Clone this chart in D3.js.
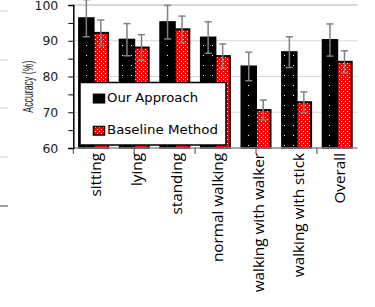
<!DOCTYPE html>
<html>
<head>
<meta charset="utf-8">
<script src="https://cdn.jsdelivr.net/npm/d3@7"></script>
<style>
  body { margin: 0; background: #fff; }
  svg { display: block; }
</style>
</head>
<body>
<svg width="375" height="307"></svg>
<script>
// data
const categories = ["sitting", "lying", "standing", "normal walking", "walking with walker", "walking with stick", "Overall"];
const seriesNames = ["Our Approach", "Baseline Method"];
const ourValues  = [96.3, 90.3, 95.2, 90.9, 82.8, 86.8, 90.2];
const ourErrors  = [5.2, 4.5, 4.7, 4.4, 4.0, 4.3, 4.5];
const baseValues = [92.2, 88.1, 93.2, 85.7, 70.6, 72.8, 84.1];
const baseErrors = [3.6, 3.6, 3.7, 3.4, 2.8, 2.9, 3.1];
const yTicks = [60, 70, 80, 90, 100];

const svg = d3.select("svg");

const x = d3.scaleBand().domain(categories).range([73.3, 357.5]);
const y = d3.scaleLinear().domain([60, 100]).range([148, 5]);
const xSub = d3.scaleBand().domain(seriesNames).range([-14.5, 14.5]);

// patterns
const defs = svg.append("defs");
let pBlack = defs.append("pattern").attr("id", "dotsBlack")
  .attr("patternUnits", "userSpaceOnUse").attr("width", 9).attr("height", 10);
pBlack.append("rect").attr("width", 9).attr("height", 10).attr("fill", "#000");
pBlack.append("rect").attr("x", 5).attr("y", 5).attr("width", 1).attr("height", 1).attr("fill", "#fff");

let pRed = defs.append("pattern").attr("id", "dotsRed")
  .attr("patternUnits", "userSpaceOnUse").attr("width", 4).attr("height", 4);
pRed.append("rect").attr("width", 4).attr("height", 4).attr("fill", "#ff0000");
pRed.append("rect").attr("x", 1).attr("y", 1).attr("width", 1).attr("height", 1).attr("fill", "#fff");
pRed.append("rect").attr("x", 3).attr("y", 3).attr("width", 1).attr("height", 1).attr("fill", "#fff");

const fills = {"Our Approach": "url(#dotsBlack)", "Baseline Method": "url(#dotsRed)"};

// bits of the neighbouring panel peeking in at the left edge
[11, 60, 108, 157].forEach(gy => {
  svg.append("line").attr("x1", 0).attr("x2", 8).attr("y1", gy).attr("y2", gy)
    .attr("stroke", "#d9d9d9").attr("stroke-width", 1.2);
});
svg.append("line").attr("x1", 0).attr("x2", 8).attr("y1", 206).attr("y2", 206)
  .attr("stroke", "#7f7f7f").attr("stroke-width", 1.5);

// gridlines
svg.append("g").selectAll("line")
  .data(yTicks.filter(d => d > 60))
  .join("line")
  .attr("x1", 73.3).attr("x2", 357.5)
  .attr("y1", d => y(d)).attr("y2", d => y(d))
  .attr("stroke", "#d9d9d9")
  .attr("stroke-width", d => d === 100 ? 2 : 1);

// bars
let rows = [];
categories.forEach((c, i) => {
  rows.push({cat: c, series: "Our Approach", value: ourValues[i], err: ourErrors[i]});
  rows.push({cat: c, series: "Baseline Method", value: baseValues[i], err: baseErrors[i]});
});

const cx = d => x(d.cat) + x.bandwidth() / 2 + xSub(d.series);

svg.append("g").selectAll("rect")
  .data(rows)
  .join("rect")
  .attr("x", d => cx(d))
  .attr("y", d => y(d.value))
  .attr("width", xSub.bandwidth())
  .attr("height", d => y(60) - y(d.value))
  .attr("fill", d => fills[d.series])
  .attr("stroke", "#000")
  .attr("stroke-width", 2);

// error bars
let eb = svg.append("g").attr("stroke", "#808080").attr("stroke-width", 1.5).attr("fill", "none");
rows.forEach(d => {
  let mx = cx(d) + xSub.bandwidth() / 2;
  eb.append("line").attr("x1", mx).attr("x2", mx)
    .attr("y1", y(d.value + d.err)).attr("y2", y(d.value - d.err));
  [d.value + d.err, d.value - d.err].forEach(v => {
    eb.append("line").attr("x1", mx - 3.5).attr("x2", mx + 3.5)
      .attr("y1", y(v)).attr("y2", y(v));
  });
});

// x axis
svg.append("line").attr("x1", 73.3).attr("x2", 357.5).attr("y1", y(60)).attr("y2", y(60))
  .attr("stroke", "#8c8c8c").attr("stroke-width", 1.5);
d3.range(5).forEach(k => {
  let tx = 73.3 + k * 1.5 * x.step();
  svg.append("line").attr("x1", tx).attr("x2", tx).attr("y1", y(60)).attr("y2", y(60) + 6)
    .attr("stroke", "#444").attr("stroke-width", 1);
});

svg.append("g").selectAll("text")
  .data(categories)
  .join("text")
  .attr("transform", d => `translate(${x(d) + x.bandwidth() / 2 + 7.5},153) scale(0.95,1) rotate(-90)`)
  .attr("text-anchor", "end")
  .attr("font-family", "'Open Sans', sans-serif")
  .attr("font-size", 15.3)
  .attr("fill", "#000")
  .text(d => d);

// y axis
let yAxis = svg.append("g")
  .attr("transform", "translate(73.3,0)")
  .call(d3.axisLeft(y).tickValues(d3.range(60, 101, 5)).tickSize(5).tickPadding(10)
    .tickFormat(d => d % 10 === 0 ? d : ""));
yAxis.select(".domain").attr("stroke", "#000").attr("stroke-width", 1.5);
yAxis.selectAll(".tick line").attr("stroke", "#000");
yAxis.selectAll("text")
  .attr("font-family", "'DejaVu Sans', sans-serif")
  .attr("font-size", 12.5)
  .attr("fill", "#222");

svg.append("text")
  .attr("transform", "translate(33,86.7) rotate(-90)")
  .attr("text-anchor", "middle")
  .attr("font-family", "'Liberation Sans', sans-serif")
  .attr("font-size", 14.5)
  .attr("textLength", 52)
  .attr("lengthAdjust", "spacingAndGlyphs")
  .attr("fill", "#222")
  .text("Accuracy (%)");

// legend
const legendLengths = [91, 111];
let legend = svg.append("g");
legend.append("rect")
  .attr("x", 80).attr("y", 82.5).attr("width", 146).attr("height", 62.5)
  .attr("fill", "#fff").attr("stroke", "#000").attr("stroke-width", 1.5);
seriesNames.forEach((s, i) => {
  let ly = 94.3 + i * 32.2;
  legend.append("rect")
    .attr("x", 93.5).attr("y", ly).attr("width", 11).attr("height", 8.5)
    .attr("fill", s === "Our Approach" ? "#000" : fills[s])
    .attr("stroke", "#000").attr("stroke-width", 1.5);
  legend.append("text")
    .attr("x", 107).attr("y", ly + 7.8)
    .attr("font-family", "'DejaVu Sans', sans-serif")
    .attr("font-size", 13)
    .attr("textLength", legendLengths[i])
    .attr("lengthAdjust", "spacingAndGlyphs")
    .attr("fill", "#000")
    .text(s);
});
</script>
</body>
</html>
